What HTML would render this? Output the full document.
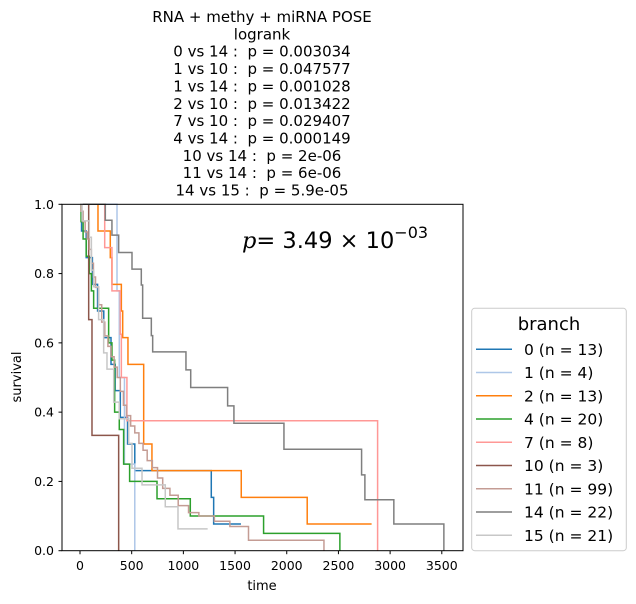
<!DOCTYPE html>
<html><head><meta charset="utf-8"><style>
body{margin:0;background:#fff;}
svg{display:block;font-family:"DejaVu Sans","Liberation Sans",sans-serif;}
#title text{white-space:pre;}
</style></head><body>
<svg id="chart" width="636" height="604" viewBox="0 0 636 604" xmlns="http://www.w3.org/2000/svg">
<g id="title" font-size="15" text-anchor="middle" fill="#000"></g>
<rect x="62" y="204.3" width="401" height="346.4" fill="#fff"/>
<g id="series"></g>
<rect x="62" y="204.3" width="401" height="346.4" fill="none" stroke="#000" stroke-width="1"/>
<g id="xaxis"></g>
<g id="yaxis"></g>
<text x="262" y="590" font-size="13" text-anchor="middle">time</text>
<text transform="translate(21,377) rotate(-90)" font-size="13" text-anchor="middle">survival</text>
<text x="242" y="248" font-size="22.5"><tspan font-style="italic" font-family="DejaVu Serif, serif">p</tspan>= 3.49 × 10<tspan dy="-10" font-size="16">−03</tspan></text>
<g id="legend">
<rect x="471.7" y="308.3" width="154.6" height="242.4" rx="3" fill="#fff" stroke="#ccc" stroke-width="1"/>
<text x="549" y="330" font-size="18" text-anchor="middle">branch</text>
</g>
</svg>
<script>
const titleLines = ["RNA + methy + miRNA POSE","logrank","0 vs 14 :  p = 0.003034","1 vs 10 :  p = 0.047577","1 vs 14 :  p = 0.001028","2 vs 10 :  p = 0.013422","7 vs 10 :  p = 0.029407","4 vs 14 :  p = 0.000149","10 vs 14 :  p = 2e-06","11 vs 14 :  p = 6e-06","14 vs 15 :  p = 5.9e-05"];
const seriesLabels = ["0 (n = 13)","1 (n = 4)","2 (n = 13)","4 (n = 20)","7 (n = 8)","10 (n = 3)","11 (n = 99)","14 (n = 22)","15 (n = 21)"];
const seriesColors = ["#1f77b4","#aec7e8","#ff7f0e","#2ca02c","#ff9896","#8c564b","#c49c94","#7f7f7f","#c7c7c7"];
const t0 = [15,60,120,170,230,300,340,390,460,530,1270,1293];
const s0 = [.923,.846,.769,.692,.615,.538,.462,.385,.308,.231,.154,.077];
const end0 = 1557;
const t1 = [358,380,430,530];
const s1 = [.75,.5,.25,0];
const end1 = 530;
const t2 = [174,293,309,400,413,464,616,696,1560,2198];
const s2 = [.923,.846,.769,.692,.615,.538,.308,.231,.154,.077];
const end2 = 2821;
const t4 = [10,30,60,90,110,132,277,309,335,380,422,480,745,1067,1776,2514];
const s4 = [.95,.9,.85,.8,.75,.7,.6,.55,.4,.35,.25,.2,.15,.1,.05,0];
const end4 = 2514;
const t7 = [239,309,390,400,454,2879];
const s7 = [.875,.75,.625,.5,.375,0];
const end7 = 2879;
const t10 = [84,116,374];
const s10 = [.667,.333,0];
const end10 = 374;
const t11 = [10,30,50,70,90,110,130,150,180,210,240,270,300,330,360,390,420,450,490,530,570,610,650,700,750,800,870,950,1050,1150,1300,1450,1630,2360];
const s11 = [.98,.95,.92,.9,.87,.83,.79,.76,.71,.66,.62,.59,.56,.53,.5,.46,.42,.39,.36,.34,.31,.29,.26,.24,.21,.18,.16,.13,.11,.1,.085,.07,.03,0];
const end11 = 2360;
const t14 = [245,309,374,503,593,606,690,703,1025,1071,1428,1489,1973,2724,2756,3036,3520];
const s14 = [.954,.911,.861,.813,.767,.671,.621,.574,.522,.471,.418,.368,.293,.219,.147,.077,0];
const end14 = 3520;
const t15 = [20,90,110,132,180,229,261,326,380,471,503,600,825,948];
const s15 = [.952,.905,.81,.762,.667,.571,.524,.429,.381,.31,.238,.19,.127,.063];
const end15 = 1235;
const xTicks = [0,500,1000,1500,2000,2500,3000,3500];
const yTicks = [0,0.2,0.4,0.6,0.8,1.0];

const NS = "http://www.w3.org/2000/svg";
const X = t => 80 + t * (361.8/3500);
const Y = s => 550.7 - s * 346.4;
function mk(tag, attrs, parent){const e=document.createElementNS(NS,tag);for(const k in attrs)e.setAttribute(k,attrs[k]);parent.appendChild(e);return e;}

const tg = document.getElementById('title');
titleLines.forEach((l,i)=>{
  const e = mk('text',{x:262,y:22+i*17.35},tg);
  
  
  e.textContent = l;
});

const sg = document.getElementById('series');
const allT=[t0,t1,t2,t4,t7,t10,t11,t14,t15], allS=[s0,s1,s2,s4,s7,s10,s11,s14,s15], allEnd=[end0,end1,end2,end4,end7,end10,end11,end14,end15];
allT.forEach((ts,i)=>{
  const ss = allS[i];
  let d = `M${X(0)},${Y(1)}`;
  ts.forEach((t,j)=>{ d += ` H${X(t)} V${Y(ss[j])}`; });
  d += ` H${X(allEnd[i])}`;
  const p = mk('path',{d:d,fill:'none',stroke:seriesColors[i],'stroke-width':1.5},sg);
  
  
});

const xg = document.getElementById('xaxis');
xTicks.forEach(v=>{
  const l = mk('line',{x1:X(v),x2:X(v),y1:550.7,y2:554.2,stroke:'#000'},xg);
  
  
  const t = mk('text',{x:X(v),y:570,'font-size':12.5,'text-anchor':'middle'},xg);
  
  
  t.textContent = v;
});
const yg = document.getElementById('yaxis');
yTicks.forEach(v=>{
  const l = mk('line',{x1:58.5,x2:62,y1:Y(v),y2:Y(v),stroke:'#000'},yg);
  
  
  const t = mk('text',{x:54,y:Y(v)+4.5,'font-size':12.5,'text-anchor':'end'},yg);
  
  
  t.textContent = v.toFixed(1);
});

const lg = document.getElementById('legend');
seriesLabels.forEach((lab,i)=>{
  const y = 349.3 + i*23.25;
  const l = mk('line',{x1:476,x2:512,y1:y,y2:y,stroke:seriesColors[i],'stroke-width':1.5},lg);
  
  
  const t = mk('text',{x:524,y:y+5.5,'font-size':15.5},lg);
  
  
  t.textContent = lab;
});
</script>
</body></html>
